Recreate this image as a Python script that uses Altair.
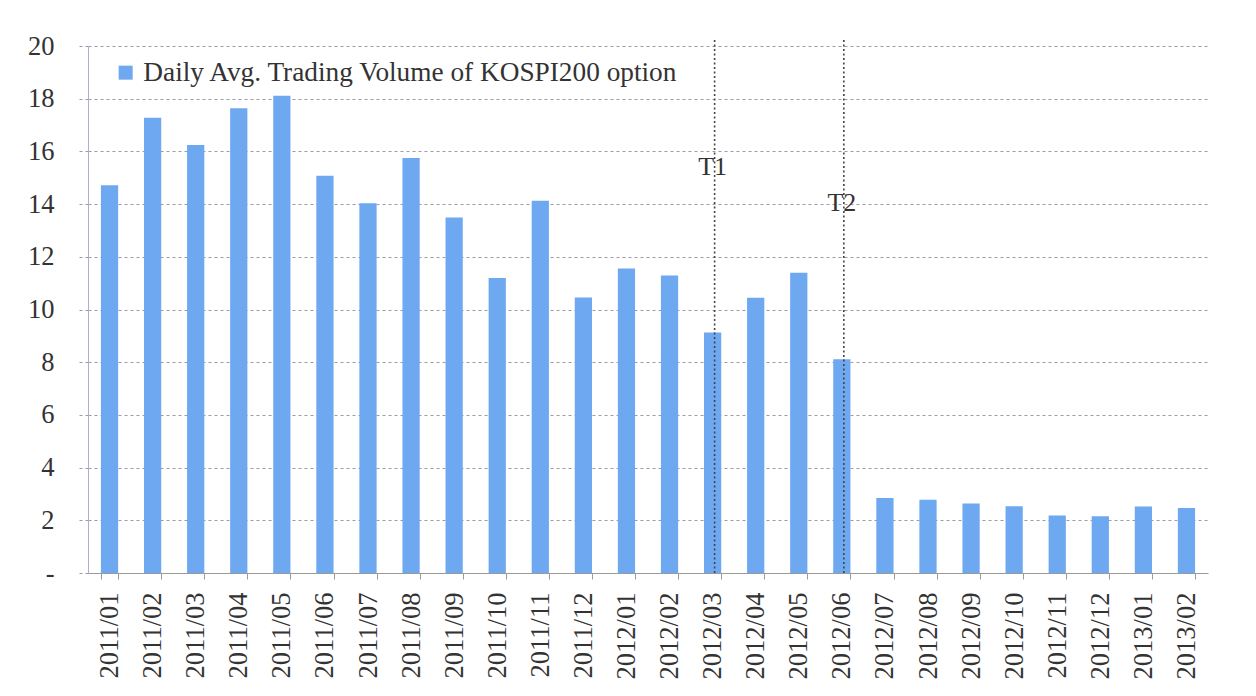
import altair as alt
import pandas as pd

months = [
    "2011/01", "2011/02", "2011/03", "2011/04", "2011/05", "2011/06",
    "2011/07", "2011/08", "2011/09", "2011/10", "2011/11", "2011/12",
    "2012/01", "2012/02", "2012/03", "2012/04", "2012/05", "2012/06",
    "2012/07", "2012/08", "2012/09", "2012/10", "2012/11", "2012/12",
    "2013/01", "2013/02",
]
volume = [
    14.72, 17.28, 16.24, 17.64, 18.11, 15.08,
    14.03, 15.75, 13.49, 11.20, 14.13, 10.46,
    11.56, 11.29, 9.13, 10.45, 11.39, 8.11,
    2.85, 2.78, 2.64, 2.53, 2.18, 2.15,
    2.52, 2.47,
]
series_name = "Daily Avg. Trading Volume of KOSPI200 option"
y_ticks = [0, 2, 4, 6, 8, 10, 12, 14, 16, 18, 20]

event_months = ["2012/03", "2012/06"]
event_labels = ["T1", "T2"]
event_label_y = [15.4, 14.05]

df = pd.DataFrame({"month": months, "volume": volume, "series": series_name})
ev = pd.DataFrame({"month": event_months, "label": event_labels, "ly": event_label_y})

FONT = "'Liberation Serif', 'Times New Roman', serif"
TXT = "#333333"
BAR = "#6EA8F0"
GRID = "#9a9aac"

x_scale = alt.Scale(domain=months, paddingInner=0.6, paddingOuter=0.3)
y_scale = alt.Scale(domain=[0, 20], nice=False)

x_axis = alt.Axis(
    title=None, labelAngle=-90, labelFont=FONT, labelFontSize=26.5,
    labelColor=TXT, tickBand="extent", tickSize=6, tickColor="#9a9a9a",
    domainColor="#9a9a9a", labelPadding=13, grid=False,
)
y_axis = alt.Axis(
    title=None, values=y_ticks,
    labelExpr="datum.value == 0 ? '-' : datum.label",
    labelFont=FONT, labelFontSize=26.5, labelColor=TXT, labelPadding=24,
    grid=True, gridDash=[3, 3], gridColor=GRID, gridWidth=1,
    tickSize=10, tickDash=[3, 3], tickColor=GRID,
    domainColor="#b8a8d8",
)

bars = alt.Chart(df).mark_bar(color=BAR).encode(
    x=alt.X("month:N", scale=x_scale, axis=x_axis, sort=months),
    y=alt.Y("volume:Q", scale=y_scale, axis=y_axis),
    color=alt.Color(
        "series:N",
        scale=alt.Scale(range=[BAR]),
        legend=alt.Legend(
            title=None, orient="none", legendX=24, legendY=13, padding=0,
            symbolType="square", symbolSize=196, symbolStrokeWidth=0,
            symbolFillColor=BAR, labelFont=FONT, labelFontSize=27.3,
            labelColor=TXT, labelOffset=4, labelLimit=800,
        ),
    ),
)

rules = alt.Chart(ev).mark_rule(
    color="#444444", strokeDash=[2, 2.5], strokeWidth=1.6, xOffset=2
).encode(
    x=alt.X("month:N", scale=x_scale, sort=months),
    y=alt.datum(0),
    y2=alt.datum(20.23),
)

labels = alt.Chart(ev).mark_text(
    font=FONT, fontSize=26, color=TXT, baseline="middle", align="center"
).encode(
    x=alt.X("month:N", scale=x_scale, sort=months),
    y=alt.Y("ly:Q", scale=y_scale),
    text="label:N",
)

chart = alt.layer(bars, rules, labels).properties(
    width=1120,
    height=527,
    autosize=alt.AutoSizeParams(type="none"),
    padding={"left": 80, "top": 38, "right": 40, "bottom": 115},
    background="white",
).configure_view(stroke=None)

chart.save("out.html", embed_options={"renderer": "svg", "actions": False})
